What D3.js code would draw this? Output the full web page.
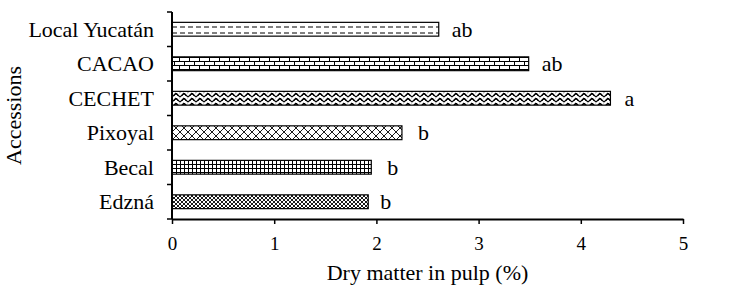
<!DOCTYPE html>
<html>
<head>
<meta charset="utf-8">
<script src="https://cdn.jsdelivr.net/npm/d3@7"></script>
<style>
  body { margin: 0; background: #fff; }
</style>
</head>
<body>
<div id="chart"></div>
<script>
// accessions, bottom to top as drawn
var accessions = ["Edzná", "Becal", "Pixoyal", "CECHET", "CACAO", "Local Yucatán"];
var dryMatter = [1.92, 1.95, 2.25, 4.29, 3.49, 2.61];
var letters = ["b", "b", "b", "a", "ab", "ab"];
var labelGap = [12, 16, 16, 14, 13, 13];
var patterns = ["pEdzna", "pBecal", "pPixoyal", "pCechet", "pCacao", "pLocal"];
var xTicks = [0, 1, 2, 3, 4, 5];

var FONT = "Liberation Serif";
var svgWidth = 746, svgHeight = 303;
var margin = {top: 12, right: 63, bottom: 84, left: 172};
var width = svgWidth - margin.left - margin.right;
var height = svgHeight - margin.top - margin.bottom;

var svg = d3.select("#chart").append("svg")
    .attr("width", svgWidth)
    .attr("height", svgHeight)
    .attr("font-family", FONT);

// hatch patterns, roughly like the Excel fills
var defs = svg.append("defs");

var pl = defs.append("pattern").attr("id", "pLocal").attr("patternUnits", "userSpaceOnUse")
    .attr("width", 8).attr("height", 6).attr("y", 1);
pl.append("rect").attr("width", 8).attr("height", 6).attr("fill", "#fff");
pl.append("line").attr("x1", 0).attr("x2", 5).attr("y1", 2).attr("y2", 2).attr("stroke", "#000").attr("stroke-width", 1);

var pc = defs.append("pattern").attr("id", "pCacao").attr("patternUnits", "userSpaceOnUse")
    .attr("width", 10).attr("height", 8).attr("y", 1);
pc.append("rect").attr("width", 10).attr("height", 8).attr("fill", "#fff");
pc.append("path").attr("d", "M0,0.5H10M0,4.5H10M2.5,0V4M7.5,4V8")
    .attr("stroke", "#000").attr("stroke-width", 1).attr("fill", "none");

// zig-zag weave
var pce = defs.append("pattern").attr("id", "pCechet").attr("patternUnits", "userSpaceOnUse")
    .attr("width", 8).attr("height", 5).attr("y", 1);
pce.append("rect").attr("width", 8).attr("height", 5).attr("fill", "#fff");
pce.append("path").attr("d", "M0,4L4,0L8,4M-1,-1L0,0M8,0L9,1M0,9L4,5")
    .attr("stroke", "#000").attr("stroke-width", 1.2).attr("fill", "none");
pce.append("path").attr("d", "M2,3L4,1L6,3")
    .attr("stroke", "#000").attr("stroke-width", 0.8).attr("fill", "none");

var pp = defs.append("pattern").attr("id", "pPixoyal").attr("patternUnits", "userSpaceOnUse")
    .attr("width", 8).attr("height", 8);
pp.append("rect").attr("width", 8).attr("height", 8).attr("fill", "#fff");
pp.append("path").attr("d", "M0,0L8,8M8,0L0,8")
    .attr("stroke", "#000").attr("stroke-width", 0.9).attr("fill", "none");

var pb = defs.append("pattern").attr("id", "pBecal").attr("patternUnits", "userSpaceOnUse")
    .attr("width", 4).attr("height", 4);
pb.append("rect").attr("width", 4).attr("height", 4).attr("fill", "#fff");
pb.append("path").attr("d", "M0,0.5H4M0.5,0V4")
    .attr("stroke", "#000").attr("stroke-width", 1).attr("fill", "none");

var pe = defs.append("pattern").attr("id", "pEdzna").attr("patternUnits", "userSpaceOnUse")
    .attr("width", 4).attr("height", 4);
pe.append("rect").attr("width", 4).attr("height", 4).attr("fill", "#fff");
pe.append("path").attr("d", "M0,0L4,4M4,0L0,4")
    .attr("stroke", "#000").attr("stroke-width", 0.9).attr("fill", "none");

var g = svg.append("g")
    .attr("transform", "translate(" + margin.left + "," + margin.top + ")");

var x = d3.scaleLinear().domain([0, 5]).range([0, width]);
var y = d3.scaleBand().domain(accessions.slice().reverse()).range([0, height]).paddingInner(0.6).paddingOuter(0.3);
var yEdges = d3.scaleLinear().domain([0, accessions.length]).range([height, 0]);

// bars
g.selectAll("rect.bar")
    .data(accessions)
    .enter()
    .append("rect")
    .attr("class", "bar")
    .attr("x", x(0))
    .attr("y", function (d) { return y(d); })
    .attr("width", function (d, i) { return x(dryMatter[i]) - x(0); })
    .attr("height", y.bandwidth())
    .attr("fill", function (d, i) { return "url(#" + patterns[i] + ")"; })
    .attr("stroke", "#000")
    .attr("stroke-width", 1.2);

// letters
g.selectAll("text.letter")
    .data(accessions)
    .enter()
    .append("text")
    .attr("class", "letter")
    .attr("x", function (d, i) { return x(dryMatter[i]) + labelGap[i]; })
    .attr("y", function (d) { return y(d) + y.bandwidth() / 2; })
    .attr("dy", "0.35em")
    .attr("font-family", FONT)
    .attr("font-size", 22)
    .text(function (d, i) { return letters[i]; });

// x axis
var xAxis = g.append("g")
    .attr("transform", "translate(0," + height + ")")
    .call(d3.axisBottom(x).tickValues(xTicks).tickSize(5).tickSizeOuter(0).tickFormat(d3.format("d")));
xAxis.attr("font-family", FONT);
xAxis.select(".domain").attr("stroke", "#000").attr("stroke-width", 2);
xAxis.selectAll(".tick line").attr("stroke", "#000").attr("stroke-width", 1.5);
xAxis.selectAll(".tick text")
    .attr("font-size", 19)
    .attr("font-family", FONT)
    .attr("fill", "#000")
    .attr("y", 31)
    .attr("dy", 0);

// y axis line and ticks at band edges
g.append("line")
    .attr("x1", 0).attr("x2", 0).attr("y1", 0).attr("y2", height)
    .attr("stroke", "#000").attr("stroke-width", 2);
g.selectAll("line.ytick")
    .data(d3.range(accessions.length + 1))
    .enter()
    .append("line")
    .attr("class", "ytick")
    .attr("x1", -5).attr("x2", 0)
    .attr("y1", function (d) { return yEdges(d); })
    .attr("y2", function (d) { return yEdges(d); })
    .attr("stroke", "#000").attr("stroke-width", 1.5);

// category labels
g.selectAll("text.cat")
    .data(accessions)
    .enter()
    .append("text")
    .attr("class", "cat")
    .attr("x", -18)
    .attr("y", function (d) { return y(d) + y.bandwidth() / 2; })
    .attr("dy", "0.35em")
    .attr("text-anchor", "end")
    .attr("font-family", FONT)
    .attr("font-size", 22)
    .text(function (d) { return d; });

// axis titles
svg.append("text")
    .attr("x", margin.left + width / 2)
    .attr("y", 280)
    .attr("text-anchor", "middle")
    .attr("font-family", FONT)
    .attr("font-size", 22)
    .text("Dry matter in pulp (%)");

svg.append("text")
    .attr("transform", "translate(21," + (margin.top + height / 2) + ") rotate(-90)")
    .attr("text-anchor", "middle")
    .attr("font-family", FONT)
    .attr("font-size", 22)
    .text("Accessions");
</script>
</body>
</html>
